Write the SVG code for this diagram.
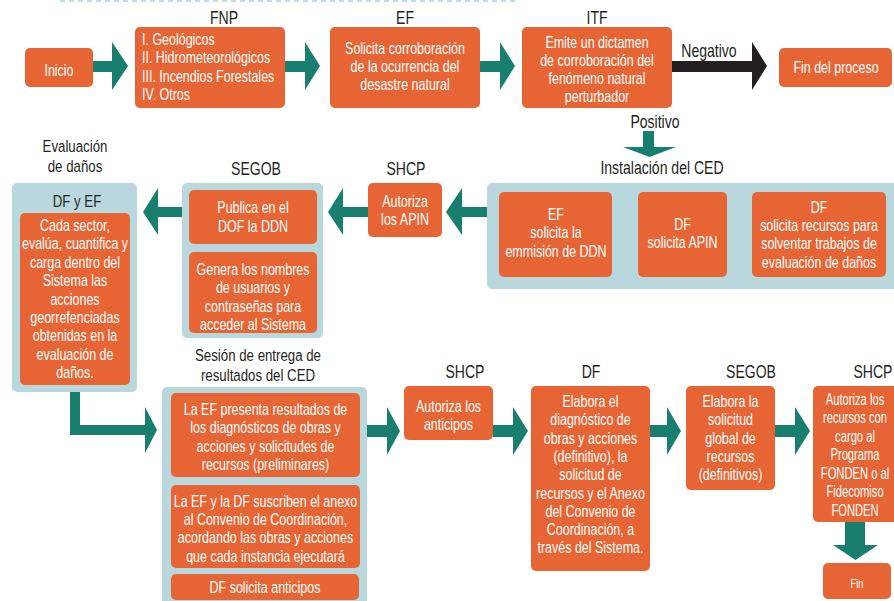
<svg xmlns="http://www.w3.org/2000/svg" width="894" height="601" viewBox="0 0 894 601">
<style>
.o{fill:#e76534}
.c{fill:#b9d8dd}
.a{fill:#187f6e}
.k{fill:#231f20}
.w{font-family:"Liberation Sans",Arial,sans-serif;font-size:16px;fill:#ffffff;text-anchor:middle}
.wl{font-family:"Liberation Sans",Arial,sans-serif;font-size:16px;fill:#ffffff;text-anchor:start}
.h{font-family:"Liberation Sans",Arial,sans-serif;font-size:18px;fill:#231f20;text-anchor:middle}
.h2{font-family:"Liberation Sans",Arial,sans-serif;font-size:17px;fill:#231f20;text-anchor:middle}
</style>
<rect width="894" height="601" fill="#ffffff"/>
<line x1="60" y1="1" x2="516" y2="1" stroke="#b9dde6" stroke-width="2" stroke-dasharray="5 4"/>

<g id="connectors">
  <polygon class="a" points="93,61 112,61 112,42 128,66 112,90 112,72 93,72"/>
  <polygon class="a" points="285,61 305,61 305,42 320,66 305,90 305,72 285,72"/>
  <polygon class="a" points="480,61 500,61 500,42 515,66 500,90 500,72 480,72"/>
  <polygon class="k" points="672,61 752,61 752,42 767,66 752,90 752,72 672,72"/>
  <polygon class="a" points="643,131 654,131 654,147 676,147 649.5,157 623,147 643,147"/>
  <polygon class="a" points="487,207 462,207 462,188 446,212 462,235 462,217 487,217"/>
  <polygon class="a" points="368,207 343,207 343,188 328,212 343,235 343,217 368,217"/>
  <polygon class="a" points="182,207 158,207 158,188 143,212 158,235 158,217 182,217"/>
  <polygon class="a" points="70,392 80,392 80,425 145,425 145,407 157,430 145,453 145,435 70,435"/>
  <polygon class="a" points="367,425 387,425 387,407 400,431 387,455 387,437 367,437"/>
  <polygon class="a" points="493,425 513,425 513,407 528,431 513,455 513,437 493,437"/>
  <polygon class="a" points="650,425 667,425 667,407 681,431 667,455 667,437 650,437"/>
  <polygon class="a" points="775,425 795,425 795,407 810,431 795,455 795,437 775,437"/>
  <polygon class="a" points="845,522 865,522 865,545 878,545 855.5,560 833,545 845,545"/>
  <g transform="translate(709 0) scale(0.78 1)"><text class="h" x="0" y="57">Negativo</text></g>
  <g transform="translate(655 0) scale(0.78 1)"><text class="h" x="0" y="128">Positivo</text></g>
</g>

<g id="inicio">
  <rect class="o" x="25" y="48" width="68" height="39" rx="5"/>
  <g transform="translate(59 0) scale(0.78 1)"><text class="w" x="0" y="76">Inicio</text></g>
</g>

<g id="fnp">
  <g transform="translate(224 0) scale(0.78 1)"><text class="h" x="0" y="24">FNP</text></g>
  <rect class="o" x="135" y="27" width="150" height="81" rx="5"/>
  <g transform="translate(142 0) scale(0.78 1)"><text class="wl"><tspan x="0" y="45">I. Geológicos</tspan><tspan x="0" y="63">II. Hidrometeorológicos</tspan><tspan x="0" y="82">III. Incendios Forestales</tspan><tspan x="0" y="100">IV. Otros</tspan></text></g>
</g>

<g id="ef">
  <g transform="translate(405 0) scale(0.78 1)"><text class="h" x="0" y="24">EF</text></g>
  <rect class="o" x="330" y="27" width="150" height="81" rx="5"/>
  <g transform="translate(405 0) scale(0.78 1)"><text class="w"><tspan x="0" y="54">Solicita corroboración</tspan><tspan x="0" y="72">de la ocurrencia del</tspan><tspan x="0" y="90">desastre natural</tspan></text></g>
</g>

<g id="itf">
  <g transform="translate(597 0) scale(0.78 1)"><text class="h" x="0" y="24">ITF</text></g>
  <rect class="o" x="522" y="27" width="150" height="81" rx="5"/>
  <g transform="translate(597 0) scale(0.78 1)"><text class="w"><tspan x="0" y="48">Emite un dictamen</tspan><tspan x="0" y="66">de corroboración del</tspan><tspan x="0" y="84">fenómeno natural</tspan><tspan x="0" y="102">perturbador</tspan></text></g>
</g>

<g id="fin-proceso">
  <rect class="o" x="779" y="48" width="113" height="39" rx="5"/>
  <g transform="translate(836 0) scale(0.78 1)"><text class="w" x="0" y="73">Fin del proceso</text></g>
</g>

<g id="instalacion-ced">
  <g transform="translate(662 0) scale(0.78 1)"><text class="h" x="0" y="174">Instalación del CED</text></g>
  <rect class="c" x="487" y="183" width="412" height="106" rx="5"/>
  <g id="ef-ddn">
    <rect class="o" x="499" y="192" width="113" height="85" rx="5"/>
    <g transform="translate(556 0) scale(0.78 1)"><text class="w"><tspan x="0" y="220">EF</tspan><tspan x="0" y="238">solicita la</tspan><tspan x="0" y="257">emmisión de DDN</tspan></text></g>
  </g>
  <g id="df-apin">
    <rect class="o" x="638" y="192" width="89" height="85" rx="5"/>
    <g transform="translate(682.5 0) scale(0.78 1)"><text class="w"><tspan x="0" y="230">DF</tspan><tspan x="0" y="248">solicita APIN</tspan></text></g>
  </g>
  <g id="df-recursos">
    <rect class="o" x="752" y="192" width="134" height="85" rx="5"/>
    <g transform="translate(819 0) scale(0.78 1)"><text class="w"><tspan x="0" y="213">DF</tspan><tspan x="0" y="231">solicita recursos para</tspan><tspan x="0" y="249">solventar trabajos de</tspan><tspan x="0" y="268">evaluación de daños</tspan></text></g>
  </g>
</g>

<g id="shcp-apin">
  <g transform="translate(406 0) scale(0.78 1)"><text class="h" x="0" y="175">SHCP</text></g>
  <rect class="o" x="368" y="183" width="74" height="54" rx="5"/>
  <g transform="translate(405 0) scale(0.78 1)"><text class="w"><tspan x="0" y="207">Autoriza</tspan><tspan x="0" y="225">los APIN</tspan></text></g>
</g>

<g id="segob-ddn">
  <g transform="translate(256 0) scale(0.78 1)"><text class="h" x="0" y="175">SEGOB</text></g>
  <rect class="c" x="182" y="183" width="141" height="155" rx="5"/>
  <rect class="o" x="189" y="190" width="128" height="54" rx="5"/>
  <g transform="translate(253 0) scale(0.78 1)"><text class="w"><tspan x="0" y="213">Publica en el</tspan><tspan x="0" y="232">DOF la DDN</tspan></text></g>
  <rect class="o" x="189" y="252" width="128" height="81" rx="5"/>
  <g transform="translate(253 0) scale(0.78 1)"><text class="w"><tspan x="0" y="275">Genera los nombres</tspan><tspan x="0" y="293">de usuarios y</tspan><tspan x="0" y="312">contraseñas para</tspan><tspan x="0" y="330">acceder al Sistema</tspan></text></g>
</g>

<g id="evaluacion-danos">
  <g transform="translate(75 0) scale(0.78 1)"><text class="h2" x="0" y="152">Evaluación</text><text class="h2" x="0" y="172">de daños</text></g>
  <rect class="c" x="12" y="183" width="125" height="209" rx="5"/>
  <g transform="translate(77 0) scale(0.78 1)"><text class="h2" x="0" y="207">DF y EF</text></g>
  <rect class="o" x="20" y="213" width="110" height="172" rx="5"/>
  <g transform="translate(75 0) scale(0.78 1)"><text class="w"><tspan x="0" y="231">Cada sector,</tspan><tspan x="0" y="249">evalúa, cuantifica y</tspan><tspan x="0" y="268">carga dentro del</tspan><tspan x="0" y="286">Sistema las</tspan><tspan x="0" y="305">acciones</tspan><tspan x="0" y="323">georrefenciadas</tspan><tspan x="0" y="341">obtenidas en la</tspan><tspan x="0" y="360">evaluación de</tspan><tspan x="0" y="378">daños.</tspan></text></g>
</g>

<g id="sesion-resultados">
  <g transform="translate(258 0) scale(0.78 1)"><text class="h2" x="0" y="361">Sesión de entrega de</text><text class="h2" x="0" y="381">resultados del CED</text></g>
  <rect class="c" x="162" y="387" width="205" height="224" rx="5"/>
  <rect class="o" x="171" y="393" width="189" height="84" rx="5"/>
  <g transform="translate(265.5 0) scale(0.78 1)"><text class="w"><tspan x="0" y="415">La EF presenta resultados de</tspan><tspan x="0" y="433">los diagnósticos de obras y</tspan><tspan x="0" y="452">acciones y solicitudes de</tspan><tspan x="0" y="470">recursos (preliminares)</tspan></text></g>
  <rect class="o" x="171" y="485" width="189" height="83" rx="5"/>
  <g transform="translate(265.5 0) scale(0.78 1)"><text class="w"><tspan x="0" y="507">La EF y la DF suscriben el anexo</tspan><tspan x="0" y="525">al Convenio de Coordinación,</tspan><tspan x="0" y="543">acordando las obras y acciones</tspan><tspan x="0" y="562">que cada instancia ejecutará</tspan></text></g>
  <rect class="o" x="171" y="574" width="188" height="26" rx="5"/>
  <g transform="translate(265 0) scale(0.78 1)"><text class="w" x="0" y="593">DF solicita anticipos</text></g>
</g>

<g id="shcp-anticipos">
  <g transform="translate(465 0) scale(0.78 1)"><text class="h" x="0" y="378">SHCP</text></g>
  <rect class="o" x="404" y="386" width="89" height="54" rx="5"/>
  <g transform="translate(448.5 0) scale(0.78 1)"><text class="w"><tspan x="0" y="412">Autoriza los</tspan><tspan x="0" y="430">anticipos</tspan></text></g>
</g>

<g id="df-diagnostico">
  <g transform="translate(591 0) scale(0.78 1)"><text class="h" x="0" y="378">DF</text></g>
  <rect class="o" x="531" y="386" width="119" height="185" rx="5"/>
  <g transform="translate(590.5 0) scale(0.78 1)"><text class="w"><tspan x="0" y="407">Elabora el</tspan><tspan x="0" y="425">diagnóstico de</tspan><tspan x="0" y="444">obras y acciones</tspan><tspan x="0" y="462">(definitivo), la</tspan><tspan x="0" y="480">solicitud de</tspan><tspan x="0" y="499">recursos y el Anexo</tspan><tspan x="0" y="517">del Convenio de</tspan><tspan x="0" y="535">Coordinación, a</tspan><tspan x="0" y="553">través del Sistema.</tspan></text></g>
</g>

<g id="segob-solicitud">
  <g transform="translate(751 0) scale(0.78 1)"><text class="h" x="0" y="378">SEGOB</text></g>
  <rect class="o" x="686" y="386" width="89" height="104" rx="5"/>
  <g transform="translate(730.5 0) scale(0.78 1)"><text class="w"><tspan x="0" y="407">Elabora la</tspan><tspan x="0" y="425">solicitud</tspan><tspan x="0" y="444">global de</tspan><tspan x="0" y="462">recursos</tspan><tspan x="0" y="480">(definitivos)</tspan></text></g>
</g>

<g id="shcp-recursos">
  <g transform="translate(873 0) scale(0.78 1)"><text class="h" x="0" y="378">SHCP</text></g>
  <rect class="o" x="813" y="386" width="86" height="136" rx="5"/>
  <g transform="translate(855 0) scale(0.7 1)"><text class="w"><tspan x="0" y="405">Autoriza los</tspan><tspan x="0" y="423">recursos con</tspan><tspan x="0" y="442">cargo al</tspan><tspan x="0" y="460">Programa</tspan><tspan x="0" y="479">FONDEN o al</tspan><tspan x="0" y="497">Fidecomiso</tspan><tspan x="0" y="516">FONDEN</tspan></text></g>
</g>

<g id="fin">
  <rect class="o" x="823" y="563" width="68" height="36" rx="5"/>
  <g transform="translate(857 0) scale(0.78 1)"><text class="w" x="0" y="588" style="font-size:12px">Fin</text></g>
</g>
</svg>
